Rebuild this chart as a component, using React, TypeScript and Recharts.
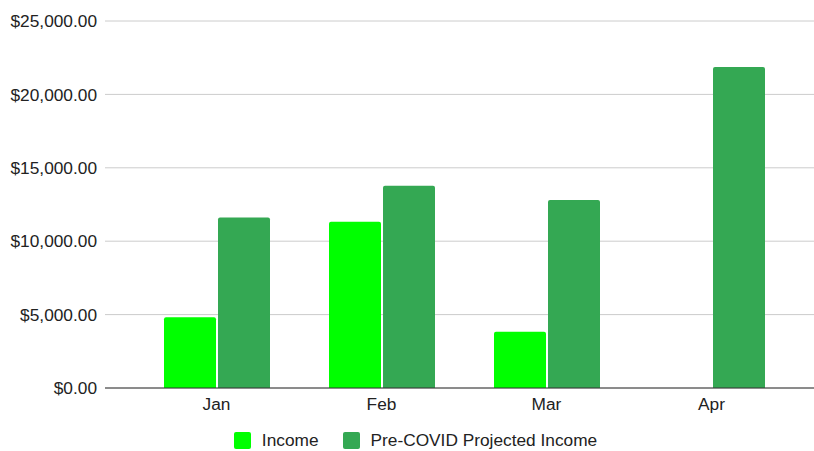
import { BarChart, Bar, XAxis, YAxis, CartesianGrid, Legend } from 'recharts'

const months = ['Jan', 'Feb', 'Mar', 'Apr']
const income = [4820, 11320, 3840, null]
const projected = [11610, 13780, 12800, 21870]
const yTicks = [0, 5000, 10000, 15000, 20000, 25000]

const INCOME_COLOR = '#00ff00'
const PROJECTED_COLOR = '#34a853'
const FONT = '"Liberation Sans", Arial, sans-serif'
const FONT_SIZE = 17.3

const data = months.map((month, i) => ({
  month,
  income: income[i],
  projected: projected[i],
}))

const formatDollar = (v: number) =>
  '$' + v.toLocaleString('en-US', { minimumFractionDigits: 2, maximumFractionDigits: 2 })

const legendItems = [
  { label: 'Income', color: INCOME_COLOR },
  { label: 'Pre-COVID Projected Income', color: PROJECTED_COLOR },
]

function LegendContent() {
  return (
    <div
      style={{
        display: 'flex',
        justifyContent: 'center',
        alignItems: 'center',
        gap: 24,
        height: 33,
        boxSizing: 'border-box',
        paddingTop: 12,
        paddingLeft: 17,
        fontFamily: FONT,
        fontSize: FONT_SIZE,
        color: '#222',
      }}
    >
      {legendItems.map((item) => (
        <div key={item.label} style={{ display: 'flex', alignItems: 'center', gap: 11 }}>
          <span style={{ width: 17, height: 17, backgroundColor: item.color, borderRadius: 2 }} />
          <span>{item.label}</span>
        </div>
      ))}
    </div>
  )
}

export default function App() {
  return (
    <div style={{ position: 'absolute', left: 0, top: 0, width: 814, height: 451, background: '#fff' }}>
      <BarChart
        width={814}
        height={451}
        data={data}
        margin={{ top: 21, right: 0, left: 0, bottom: 0 }}
        barCategoryGap={30}
        barGap={2}
      >
        <CartesianGrid vertical={false} stroke="#cccccc" />
        <XAxis
          dataKey="month"
          tickLine={false}
          axisLine={{ stroke: '#333333' }}
          tick={{ fontSize: FONT_SIZE, fill: '#222', fontFamily: FONT }}
          tickMargin={4}
          height={30}
          padding={{ left: 29, right: 20 }}
        />
        <YAxis
          domain={[0, 25000]}
          ticks={yTicks}
          tickFormatter={formatDollar}
          tickLine={false}
          axisLine={false}
          width={105}
          tick={{ fontSize: FONT_SIZE, fill: '#222', fontFamily: FONT }}
        />
        <Legend verticalAlign="bottom" height={33} content={<LegendContent />} />
        <Bar dataKey="income" name="Income" fill={INCOME_COLOR} radius={[2, 2, 0, 0]} isAnimationActive={false} />
        <Bar
          dataKey="projected"
          name="Pre-COVID Projected Income"
          fill={PROJECTED_COLOR}
          radius={[2, 2, 0, 0]}
          isAnimationActive={false}
        />
      </BarChart>
    </div>
  )
}
